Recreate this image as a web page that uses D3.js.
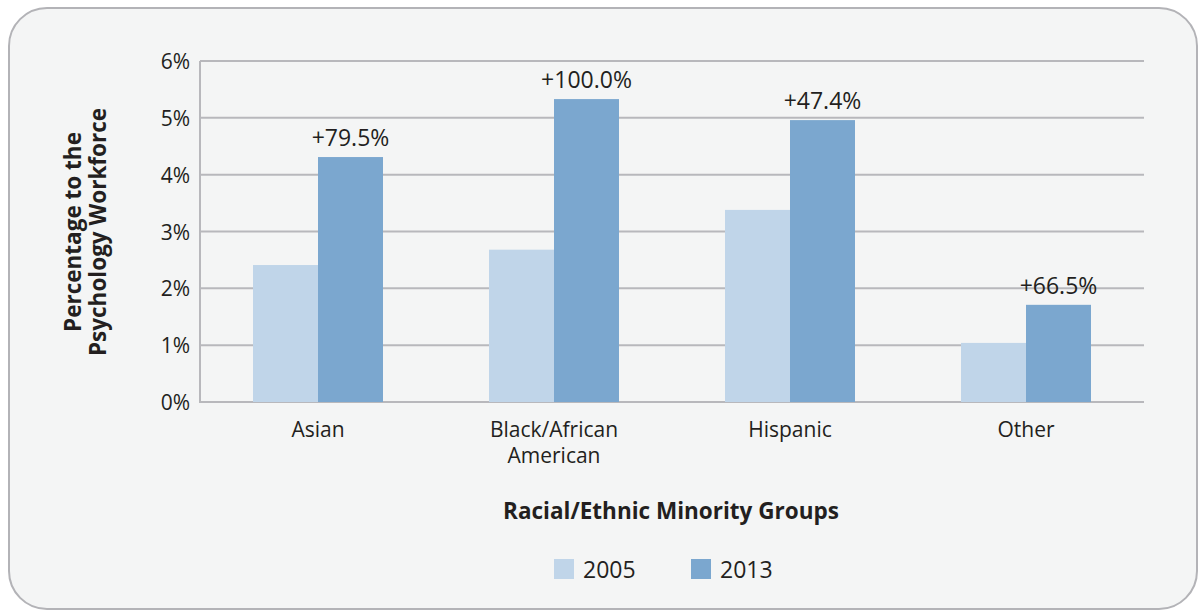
<!doctype html>
<html>
<head>
<meta charset="utf-8">
<script src="https://d3js.org/d3.v7.min.js"></script>
<style>
  body {margin: 0; background: #fff;}
  text {font-family: "Open Sans", sans-serif; fill: #231f20;}
</style>
</head>
<body>
<svg width="1198" height="610"></svg>
<script>
// data
var groups = ["Asian", "Black/African American", "Hispanic", "Other"];
var years = ["2005", "2013"];
var v2005 = [2.41, 2.68, 3.38, 1.04];
var v2013 = [4.31, 5.33, 4.96, 1.71];
var changes = ["+79.5%", "+100.0%", "+47.4%", "+66.5%"];
var yTicks = [0, 1, 2, 3, 4, 5, 6];
var colors = ["#c0d5e9", "#7ba7cf"];

var svg = d3.select("svg");

// rounded panel
svg.append("rect")
    .attr("x", 9).attr("y", 8).attr("width", 1188).attr("height", 601)
    .attr("rx", 38).attr("ry", 38)
    .attr("fill", "#f4f5f5").attr("stroke", "#b3b3b7").attr("stroke-width", 2);

var x = d3.scaleBand().domain(groups).range([200, 1144]);
var xs = d3.scaleBand().domain(years).range([0, 130]);
var y = d3.scaleLinear().domain([0, 6]).range([402, 61]);

// gridlines
svg.append("g").selectAll("line")
    .data(yTicks)
    .enter().append("line")
      .attr("x1", 200).attr("x2", 1144)
      .attr("y1", function(d) {return y(d)})
      .attr("y2", function(d) {return y(d)})
      .attr("stroke", "#b8b8bc").attr("stroke-width", 2);

// y axis line
svg.append("line")
    .attr("x1", 200).attr("x2", 200).attr("y1", y(6)).attr("y2", y(0) + 1)
    .attr("stroke", "#b8b8bc").attr("stroke-width", 2);

// tick labels
svg.append("g").selectAll("text")
    .data(yTicks)
    .enter().append("text")
      .attr("x", 190)
      .attr("y", function(d) {return y(d) + 8})
      .attr("text-anchor", "end")
      .style("font-size", "21px")
      .text(function(d) {return d + "%"});

// bars
var series = [v2005, v2013];
series.forEach(function(vals, si) {
    svg.append("g").selectAll("rect")
        .data(vals)
        .enter().append("rect")
          .attr("x", function(d, i) {return x(groups[i]) + (x.bandwidth() - 130) / 2 + xs(years[si])})
          .attr("y", function(d) {return y(d)})
          .attr("width", xs.bandwidth())
          .attr("height", function(d) {return y(0) - y(d)})
          .attr("fill", colors[si]);
});

// change labels above 2013 bars
svg.append("g").selectAll("text")
    .data(changes)
    .enter().append("text")
      .attr("x", function(d, i) {return x(groups[i]) + (x.bandwidth() - 130) / 2 + xs("2013") + xs.bandwidth() / 2})
      .attr("y", function(d, i) {return y(v2013[i]) - 11})
      .attr("text-anchor", "middle")
      .style("font-size", "23px")
      .text(function(d) {return d});

// category labels
var catLines = [["Asian"], ["Black/African", "American"], ["Hispanic"], ["Other"]];
svg.append("g").selectAll("text")
    .data(groups)
    .enter().append("text")
      .attr("text-anchor", "middle")
      .attr("x", function(d) {return x(d) + x.bandwidth() / 2})
      .attr("y", 437)
      .style("font-size", "21px")
      .each(function(d, i) {
          var t = d3.select(this);
          catLines[i].forEach(function(line, k) {
              t.append("tspan")
                .attr("x", x(d) + x.bandwidth() / 2)
                .attr("dy", k === 0 ? 0 : 26)
                .text(line);
          });
      });

// x title
svg.append("text")
    .attr("x", 671).attr("y", 519)
    .attr("text-anchor", "middle")
    .style("font-size", "22.5px").style("font-weight", "bold")
    .text("Racial/Ethnic Minority Groups");

// y title
var yt = svg.append("text")
    .attr("transform", "translate(81,232) rotate(-90)")
    .attr("text-anchor", "middle")
    .style("font-size", "22.5px").style("font-weight", "bold");
yt.append("tspan").attr("x", 0).attr("dy", 0).text("Percentage to the");
yt.append("tspan").attr("x", 0).attr("dy", 25).text("Psychology Workforce");

// legend
var legX = [554, 691];
years.forEach(function(yr, i) {
    svg.append("rect")
        .attr("x", legX[i]).attr("y", 559).attr("width", 20).attr("height", 20)
        .attr("fill", colors[i]);
    svg.append("text")
        .attr("x", legX[i] + 29).attr("y", 578)
        .style("font-size", "23px")
        .text(yr);
});
</script>
</body>
</html>
